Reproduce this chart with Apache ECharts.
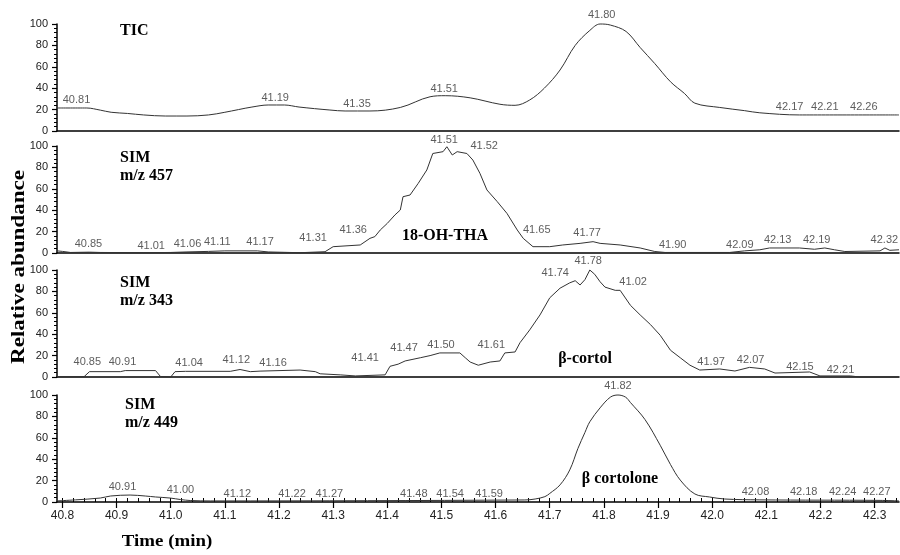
<!DOCTYPE html>
<html><head><meta charset="utf-8">
<script src="https://cdn.jsdelivr.net/npm/echarts@6/dist/echarts.min.js"></script>
<style>html,body{margin:0;padding:0;background:#fff}#c{width:900px;height:555px}</style>
</head><body><div id="c"></div>
<script>
// ---------- DATA ----------
// TIC
const ticT = [40.79,40.845,40.870,40.890,40.920,40.950,40.990,41.030,41.070,41.100,41.125,41.150,41.180,41.210,41.237,41.294,41.322,41.368,41.424,41.479,41.507,41.553,41.608,41.636,41.663,41.690,41.719,41.747,41.774,41.793,41.812,41.841,41.867,41.894,41.923,41.949,41.968,42.014,42.060,42.088,42.161,42.345];
const ticV = [21.5,21.5,19.5,17.5,16.4,15,14,14,15,17.5,20,22.4,24.3,24.3,22.4,19.6,18.7,18.7,22,32,33,31,25,24,29,40,57,80,94,100,99,93,78,63,46,35,26,22,19,17,15,15];
const ticLabT = [40.826,41.193,41.344,41.505,41.796,42.143,42.208,42.280];
const ticLabV = [29,31,25,39,108,22,22,22];
const ticLabTxt = ['40.81','41.19','41.35','41.51','41.80','42.17','42.21','42.26'];

// SIM m/z 457
const s457T = [40.79,40.80,40.815,40.85,40.87,40.95,41.00,41.03,41.07,41.10,41.16,41.18,41.22,41.24,41.285,41.300,41.350,41.368,41.377,41.387,41.400,41.414,41.424,41.429,41.442,41.457,41.473,41.484,41.503,41.510,41.520,41.529,41.547,41.558,41.571,41.584,41.603,41.621,41.640,41.651,41.669,41.700,41.724,41.756,41.780,41.793,41.830,41.867,41.894,41.913,42.032,42.060,42.088,42.106,42.161,42.189,42.208,42.226,42.245,42.310,42.319,42.328,42.345];
const s457V = [2,1.5,0.5,0.8,0.5,0.3,0.5,1,1.5,2,2,1,0.5,0.3,1.2,5.9,7.5,13.7,15.3,21.5,27.7,35.5,40.2,52.6,54.2,65,77.6,93,94.7,99.3,91.6,94.7,93,86.9,74.5,58.9,48,37,21.5,13.7,5.9,5.9,7.5,9,10.6,9,7.5,4.7,1.4,0.5,0.5,2,3,4.7,4.7,3.5,4.7,3,1.4,2,4.7,2.5,3];
const s457LabT = [40.848,40.964,41.031,41.086,41.165,41.263,41.337,41.505,41.579,41.676,41.769,41.927,42.051,42.121,42.193,42.318];
const s457LabV = [8.4,6.5,8.4,10,10,14,21.5,106,100,21.5,18.7,7.5,7.5,12,12,12];
const s457LabTxt = ['40.85','41.01','41.06','41.11','41.17','41.31','41.36','41.51','41.52','41.65','41.77','41.90','42.09','42.13','42.19','42.32'];

// SIM m/z 343
const s343T = [40.79,40.84,40.850,40.907,40.916,40.972,40.981,41.000,41.008,41.027,41.110,41.128,41.147,41.165,41.239,41.267,41.276,41.313,41.341,41.396,41.405,41.420,41.433,41.461,41.479,41.497,41.534,41.544,41.553,41.568,41.590,41.608,41.617,41.636,41.645,41.663,41.682,41.700,41.719,41.737,41.747,41.756,41.765,41.774,41.783,41.793,41.802,41.821,41.830,41.849,41.867,41.886,41.904,41.923,41.941,41.959,41.977,42.014,42.042,42.069,42.097,42.116,42.180,42.199,42.255,42.273,42.345];
const s343V = [0.3,0.3,5,5,6,6,0.5,0,5,5.3,5.3,7,5,5.5,6.5,5,3,2,1,2,10,12,15,18,20,22.5,22.5,18,14,11,14,15,22.5,23.4,32,44,58,74,83,88,90,86,91,100,96,89,84,81,81,67,58,49,39,25,18,11,6.5,7.5,5.6,9,7.5,3.7,4.7,1,1,0,0];
const s343LabT = [40.846,40.911,41.034,41.121,41.189,41.359,41.431,41.499,41.592,41.710,41.771,41.854,41.998,42.071,42.162,42.237];
const s343LabV = [14,14,13,16,13,18,27,30,30,97,108,88.8,14,16,9.3,6.5];
const s343LabTxt = ['40.85','40.91','41.04','41.12','41.16','41.41','41.47','41.50','41.61','41.74','41.78','41.02','41.97','42.07','42.15','42.21'];

// SIM m/z 449
const s449T = [40.79,40.824,40.870,40.889,40.925,40.953,40.972,40.999,41.018,41.036,41.073,41.654,41.673,41.691,41.700,41.719,41.737,41.752,41.765,41.774,41.793,41.812,41.826,41.840,41.849,41.876,41.904,41.923,41.941,41.968,41.995,42.023,42.088,42.310,42.345];
const s449V = [1,2,3.7,5.6,6.5,5.6,4.7,3.7,2.3,1.4,1,1.9,2.8,5,8,16,30,50,65,75,88,98,100,98,93,77,53,35,20.5,7.5,4.7,2.8,2,1.5,1];
const s449LabT = [40.911,41.018,41.123,41.224,41.293,41.449,41.516,41.588,41.826,42.080,42.169,42.241,42.304];
const s449LabV = [14,11,7.5,7.5,7.5,7.5,7.5,7.5,108,9,9,9,9];
const s449LabTxt = ['40.91','41.00','41.12','41.22','41.27','41.48','41.54','41.59','41.82','42.08','42.18','42.24','42.27'];

// axis ticks
const xMajor = ['40.8','40.9','41.0','41.1','41.2','41.3','41.4','41.5','41.6','41.7','41.8','41.9','42.0','42.1','42.2','42.3'];
const xMinorStep = 0.02;

// ---------- BUILD ----------
const X_MIN = 40.79, X_MAX = 42.345;
const zip = (a,b) => a.map((v,i)=>[v,b[i]]);
const labData = (t,v,txt) => t.map((x,i)=>({value:[x,v[i]], txt: txt[i]}));
const xMinor = [];
for (let k = 0; ; k++) { const v = +(40.8 + k*xMinorStep).toFixed(3); if (v > X_MAX) break; xMinor.push(v); }

const panels = [
  {T:ticT,V:ticV,LT:ticLabT,LV:ticLabV,LX:ticLabTxt,smooth:0.35},
  {T:s457T,V:s457V,LT:s457LabT,LV:s457LabV,LX:s457LabTxt,smooth:false},
  {T:s343T,V:s343V,LT:s343LabT,LV:s343LabV,LX:s343LabTxt,smooth:false},
  {T:s449T,V:s449V,LT:s449LabT,LV:s449LabV,LX:s449LabTxt,smooth:0.35}
];
const tops = [24,146,270,395];
const H = 107;

const grid = [], xAxis = [], yAxis = [], series = [];
panels.forEach((p,i)=>{
  grid.push({left:57, right:1, top:tops[i], height:H, containLabel:false});
  const bottom = i===3;
  xAxis.push({
    type:'value', gridIndex:i, min:X_MIN, max:X_MAX,
    axisLine:{show:true, onZero:false, lineStyle:{color:'#000', width:1.5}},
    axisTick:{show:bottom, inside:false, length:6, lineStyle:{color:'#000', width:1.2},
      customValues: xMajor.map(Number)},
    axisLabel:{show:bottom, margin:8, fontSize:12, color:'#222', fontFamily:'Liberation Sans, Arial, sans-serif',
      customValues: xMajor.map(Number), formatter: v => (+v).toFixed(1)},
    splitLine:{show:false}, minorTick:{show:false}
  });
  yAxis.push({
    type:'value', gridIndex:i, min:0, max:100, interval:20,
    axisLine:{show:true, lineStyle:{color:'#000', width:1.5}},
    axisTick:{show:true, length:5, lineStyle:{color:'#000', width:1.2}},
    minorTick:{show:true, splitNumber:5, length:3, lineStyle:{color:'#000', width:1}},
    axisLabel:{margin:9, fontSize:11, color:'#222', fontFamily:'Liberation Sans, Arial, sans-serif'},
    splitLine:{show:false}
  });
  series.push({
    type:'line', xAxisIndex:i, yAxisIndex:i, data:zip(p.T,p.V), showSymbol:false,
    smooth:p.smooth, lineStyle:{color:'#333', width:1}, silent:true, clip:false
  });
  series.push({
    type:'scatter', xAxisIndex:i, yAxisIndex:i, data:labData(p.LT,p.LV,p.LX),
    symbolSize:1, itemStyle:{color:'rgba(0,0,0,0)'}, clip:false, silent:true,
    label:{show:true, position:'inside', formatter: d => d.data.txt, fontSize:11, color:'#333',
      fontFamily:'Liberation Sans, Arial, sans-serif'}
  });
});
// minor x ticks on bottom panel
xAxis.push({
  type:'value', gridIndex:3, min:X_MIN, max:X_MAX,
  axisLine:{show:false},
  axisTick:{show:true, length:4, lineStyle:{color:'#000', width:1}, customValues:xMinor},
  axisLabel:{show:false}, splitLine:{show:false}
});

const serif = 'bold 16px "Liberation Serif", "Times New Roman", serif';
const txt = (s,x,y,align='left',font=serif,rot=0,sx=1) => ({type:'text', x, y, rotation:rot, scaleX:sx,
  style:{text:s, font, fill:'#000', textAlign:align, textVerticalAlign:'middle'}, silent:true});

const graphic = [
  txt('TIC',120,30.5),
  txt('SIM',120,158), txt('m/z 457',120,176),
  txt('SIM',120,282.5), txt('m/z 343',120,301),
  txt('SIM',125,405), txt('m/z 449',125,423),
  txt('18-OH-THA',445,236,'center'),
  txt('β-cortol',585,359,'center'),
  txt('β cortolone',620,479,'center'),
  txt('Time (min)',167,542,'center','bold 17px "Liberation Serif", "Times New Roman", serif',0,1.11),
  txt('Relative abundance',19,267,'center','bold 18px "Liberation Serif", "Times New Roman", serif',Math.PI/2,1.28)
];

const chart = echarts.init(document.getElementById('c'), null, {renderer:'canvas'});
chart.setOption({animation:false, backgroundColor:'#fff', grid, xAxis, yAxis, series, graphic});
</script></body></html>
